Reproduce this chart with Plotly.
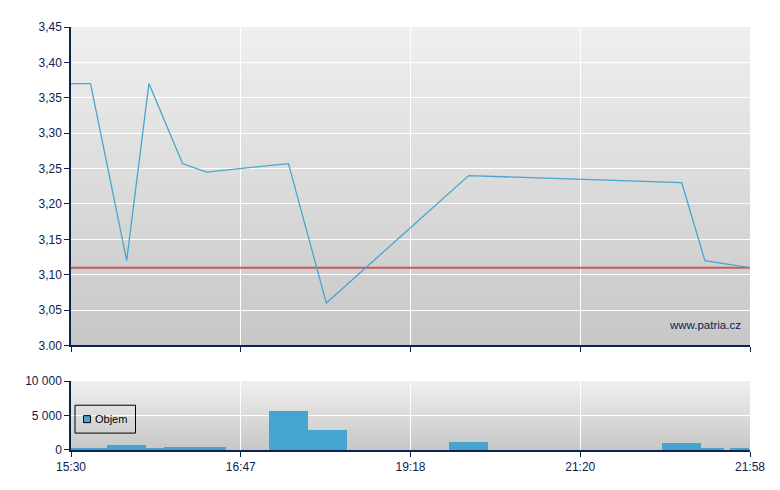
import plotly.graph_objects as go

# ---- data ----
tick_positions = [0, 1, 2, 3, 4]
tick_labels = ["15:30", "16:47", "19:18", "21:20", "21:58"]

price_pos = [0.0, 0.115, 0.328, 0.459, 0.657, 0.798, 1.281, 1.504, 2.343, 3.598, 3.734, 4.0]
price_val = [3.37, 3.37, 3.12, 3.37, 3.257, 3.245, 3.257, 3.06, 3.24, 3.23, 3.12, 3.11]
prev_close = 3.11

y_tick_vals = [3.00, 3.05, 3.10, 3.15, 3.20, 3.25, 3.30, 3.35, 3.40, 3.45]
y_tick_text = ["3.00", "3,05", "3,10", "3,15", "3,20", "3,25", "3,30", "3,35", "3,40", "3,45"]

vol_start = [0.0, 0.212, 0.441, 0.547, 1.165, 1.394, 2.229, 3.482, 3.712, 3.882]
vol_end = [0.212, 0.441, 0.547, 0.912, 1.394, 1.624, 2.459, 3.712, 3.847, 3.994]
vol_val = [300, 700, 250, 450, 5600, 2900, 1200, 1000, 250, 250]
vol_ticks = [0, 5000, 10000]
vol_name = "Objem"

NAVY = "#0b2253"
BLUE = "#48a6d0"
BAR = "#45a5cf"
FONT = "Liberation Sans, Arial, sans-serif"

vol_center = [(a + b) / 2 for a, b in zip(vol_start, vol_end)]
vol_width = [b - a for a, b in zip(vol_start, vol_end)]

fig = go.Figure()

# previous close reference line (drawn under the price line)
fig.add_trace(go.Scatter(
    x=[tick_positions[0], tick_positions[-1]], y=[prev_close, prev_close],
    mode="lines", line=dict(color="#c65a5a", width=2),
    xaxis="x", yaxis="y", showlegend=False, hoverinfo="skip",
))

fig.add_trace(go.Scatter(
    x=price_pos, y=price_val, mode="lines",
    line=dict(color=BLUE, width=1.3),
    xaxis="x", yaxis="y", showlegend=False, hoverinfo="skip",
))

fig.add_trace(go.Bar(
    x=vol_center, y=vol_val, width=vol_width,
    marker=dict(color=BAR, line=dict(width=0)),
    xaxis="x2", yaxis="y2", showlegend=False, name=vol_name,
))

# page offset compensation (browser body margin of 8px)
W, H = 772, 482
L, R, T, B = 63, 30, 17, 40
PW, PH = W - L - R, H - T - B


def px(xpix):
    return (xpix - 8 - L) / PW


def py(ypix):
    return (H - B - (ypix - 8)) / PH


shapes = []
N = 60


def grad(xr, yr):
    out = []
    for i in range(N):
        t = (i + 0.5) / N
        c = int(round(239 - (239 - 199) * t))
        out.append(dict(
            type="rect", xref=xr, yref=yr,
            x0=0, x1=1, y0=0, y1=1 - i / N,
            fillcolor=f"rgb({c},{c},{c})", line=dict(width=0), layer="below",
        ))
    return out


shapes += grad("x domain", "y domain")
shapes += grad("x2 domain", "y2 domain")

# manual legend box
shapes.append(dict(type="rect", xref="paper", yref="paper",
                   x0=px(75), x1=px(135.5), y0=py(433), y1=py(405),
                   line=dict(color="black", width=1), fillcolor="rgba(0,0,0,0)",
                   layer="above"))
shapes.append(dict(type="rect", xref="paper", yref="paper",
                   x0=px(83.5), x1=px(90.5), y0=py(422.5), y1=py(415.5),
                   line=dict(color="black", width=1), fillcolor=BAR,
                   layer="above"))

axis_common = dict(
    showline=True, linecolor=NAVY, linewidth=1.5, mirror=False,
    ticks="outside", ticklen=5, tickcolor=NAVY, tickwidth=1,
    gridcolor="white", gridwidth=1, zeroline=False,
    tickfont=dict(family=FONT, size=12, color=NAVY),
)

top_bottom = py(345)
bot_top = py(380.7)

fig.update_layout(
    width=W, height=H,
    margin=dict(l=L, r=R, t=T, b=B),
    paper_bgcolor="white", plot_bgcolor="rgba(0,0,0,0)",
    separators=", ",
    font=dict(family=FONT, size=12, color=NAVY),
    shapes=shapes,
    bargap=0,
    showlegend=False,
    xaxis=dict(domain=[0, 1], anchor="y",
               range=[tick_positions[0], tick_positions[-1]],
               tickvals=tick_positions, showticklabels=False, **axis_common),
    yaxis=dict(domain=[top_bottom, 1], anchor="x",
               range=[y_tick_vals[0], y_tick_vals[-1]],
               tickvals=y_tick_vals, ticktext=y_tick_text, **axis_common),
    xaxis2=dict(domain=[0, 1], anchor="y2",
                range=[tick_positions[0], tick_positions[-1]],
                tickvals=tick_positions, ticktext=tick_labels, **axis_common),
    yaxis2=dict(domain=[0, bot_top], anchor="x2",
                range=[vol_ticks[0], vol_ticks[-1]],
                tickvals=vol_ticks, tickformat=",d", **axis_common),
    annotations=[
        dict(text="www.patria.cz", xref="paper", yref="paper",
             x=px(743), y=py(324), xanchor="right", yanchor="middle",
             showarrow=False, font=dict(family=FONT, size=11.5, color=NAVY)),
        dict(text=vol_name, xref="paper", yref="paper",
             x=px(93), y=py(419), xanchor="left", yanchor="middle",
             showarrow=False, font=dict(family=FONT, size=11, color="black")),
    ],
)

fig.write_html("out.html")
